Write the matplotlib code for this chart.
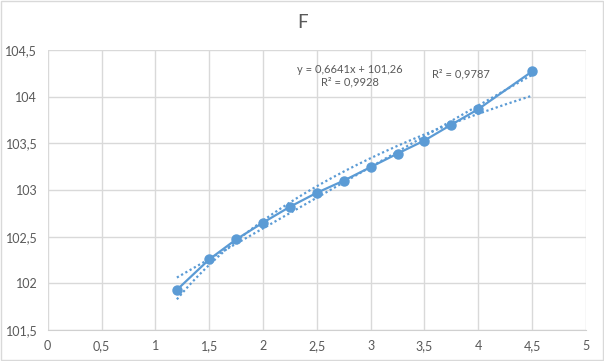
import numpy as np
import matplotlib
matplotlib.use('Agg')
import matplotlib.pyplot as plt
from matplotlib.ticker import FuncFormatter, MultipleLocator

# values
x_vals = [1.2, 1.5, 1.75, 2.0, 2.25, 2.5, 2.75, 3.0, 3.25, 3.5, 3.75, 4.0, 4.5]
f_vals = [101.93, 102.256, 102.47, 102.65, 102.82, 102.97, 103.10, 103.245, 103.39, 103.53, 103.70, 103.866, 104.27]

lin_label = 'y = 0,6641x + 101,26\nR² = 0,9928'
log_label = 'R² = 0,9787'

blue = '#5B9BD5'
grey_text = '#595959'
grid_col = '#D9D9D9'

plt.rcParams['font.family'] = ['Lato', 'DejaVu Sans']

fig = plt.figure(figsize=(6.04, 3.61), dpi=100)
ax = fig.add_axes([0.079, 0.0859, 0.891, 0.7756])

x = np.array(x_vals)
y = np.array(f_vals)

# trendlines (linear + logarithmic) fitted from the data
xs = np.linspace(x.min(), x.max(), 200)
k, b = np.polyfit(x, y, 1)
a, c = np.polyfit(np.log(x), y, 1)
ax.plot(xs, k * xs + b, color=blue, lw=1.6, ls=(0, (1, 1.2)), zorder=2)
ax.plot(xs, a * np.log(xs) + c, color=blue, lw=1.6, ls=(0, (1, 1.2)), zorder=2)

ax.plot(x, y, color=blue, lw=1.6, marker='o', markersize=6.5, zorder=3)

ax.set_xlim(0, 5)
ax.set_ylim(101.5, 104.5)
ax.xaxis.set_major_locator(MultipleLocator(0.5))
ax.yaxis.set_major_locator(MultipleLocator(0.5))
fmt = FuncFormatter(lambda v, p: ('%g' % v).replace('.', ','))
ax.xaxis.set_major_formatter(fmt)
ax.yaxis.set_major_formatter(fmt)
ax.grid(True, color=grid_col, lw=1)
ax.set_axisbelow(True)
for s in ['top', 'right', 'left']:
    ax.spines[s].set_visible(False)
ax.spines['bottom'].set_color('#D0D0D0')
ax.tick_params(length=0, labelsize=9, colors=grey_text, pad=7.5)

ax.text(350 / 604, 1 - 76 / 361, lin_label, transform=fig.transFigure, ha='center', va='center',
        fontsize=8, color=grey_text, linespacing=1.2)
ax.text(461 / 604, 1 - 74 / 361, log_label, transform=fig.transFigure, ha='center', va='center',
        fontsize=8, color=grey_text)

fig.text(303 / 604, 1 - 23 / 361, 'F', ha='center', va='center', fontsize=13.5, color=grey_text)

# outer chart border
fig.patches.append(plt.Rectangle((0.001, 0.002), 0.997, 0.995, transform=fig.transFigure,
                                 fill=False, edgecolor='#D9D9D9', lw=1))

fig.savefig('out.png', dpi=100)
